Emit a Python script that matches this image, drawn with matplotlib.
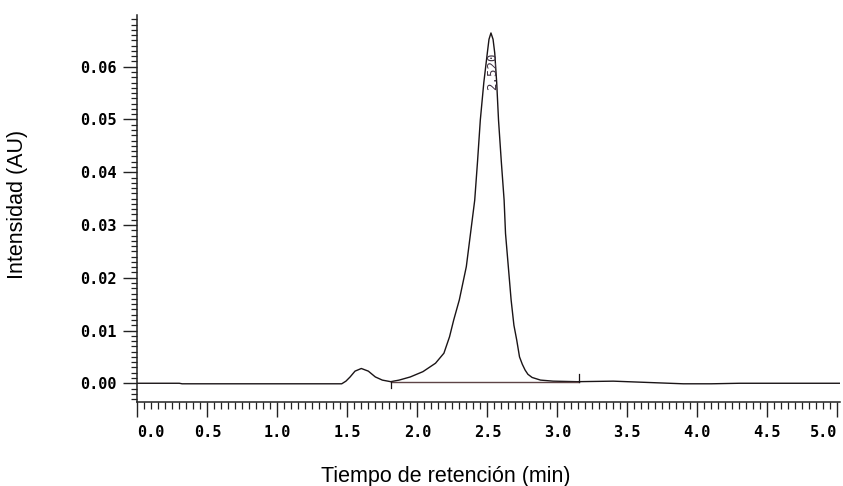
#!/usr/bin/env python3
"""Chromatogram: intensity vs retention time with one integrated peak."""
import matplotlib
matplotlib.use('Agg')
import matplotlib.pyplot as plt
from matplotlib.ticker import MultipleLocator

# signal (retention time in min, intensity in AU)
tiempo = [0.00, 0.30, 0.32, 1.00, 1.46, 1.49, 1.52, 1.555, 1.60, 1.65, 1.70,
          1.75, 1.81, 1.87, 1.95, 2.04, 2.13, 2.19, 2.23, 2.26, 2.30, 2.35,
          2.38, 2.41, 2.43, 2.45, 2.475, 2.50, 2.512, 2.526, 2.541, 2.553,
          2.567, 2.58, 2.60, 2.62, 2.63, 2.65, 2.67, 2.69, 2.71, 2.73, 2.75,
          2.77, 2.79, 2.82, 2.88, 2.97, 3.14, 3.40, 3.50, 3.70, 3.90, 4.10,
          4.30, 5.02]
intensidad = [0.0000, 0.0000, -0.0001, -0.0001, -0.0001, 0.0004, 0.0012,
              0.0023, 0.0028, 0.0023, 0.0012, 0.0006, 0.0003, 0.0006, 0.0012,
              0.0022, 0.0038, 0.0057, 0.0088, 0.0120, 0.0158, 0.0221, 0.0284,
              0.0347, 0.0420, 0.0499, 0.0570, 0.0626, 0.0652, 0.0664, 0.0652,
              0.0626, 0.0570, 0.0499, 0.0420, 0.0347, 0.0284, 0.0221, 0.0158,
              0.0110, 0.0082, 0.0050, 0.0036, 0.0025, 0.0017, 0.0011, 0.0006,
              0.0004, 0.0003, 0.0004, 0.0003, 0.0001, -0.0001, -0.0001,
              0.0000, 0.0000]

# integration limits of the main peak and its label
inicio_pico = 1.814
fin_pico = 3.157
nivel_base = 0.0003
tr_pico = 2.520
y_etiqueta = 0.0555

xticks = [0.0, 0.5, 1.0, 1.5, 2.0, 2.5, 3.0, 3.5, 4.0, 4.5, 5.0]
yticks = [0.00, 0.01, 0.02, 0.03, 0.04, 0.05, 0.06]

fig = plt.figure(figsize=(8.43, 4.86), dpi=100)
ax = fig.add_axes([0.1629, 0.1735, 0.8335, 0.7956])

ax.plot(tiempo, intensidad, color='#1a1416', lw=1.0)
# baseline and start/end markers
ax.plot([inicio_pico, fin_pico], [nivel_base, nivel_base], color='#5e4446', lw=1.0)
ax.plot([inicio_pico, inicio_pico], [nivel_base, -0.0009], color='#1a1416', lw=0.9)
ax.plot([fin_pico, fin_pico], [nivel_base, 0.0017], color='#1a1416', lw=0.9)
ax.text(tr_pico + 0.015, y_etiqueta, f'{tr_pico:.3f}', rotation=90, ha='center',
        va='bottom', family='DejaVu Sans Mono', fontsize=9, color='#3d3040')

ax.set_xlim(0, 5.019)
ax.set_ylim(-0.00349, 0.0698)

for s in ('top', 'right'):
    ax.spines[s].set_visible(False)
for s in ('left', 'bottom'):
    ax.spines[s].set_linewidth(1.1)
    ax.spines[s].set_color('#222222')

ax.set_xticks(xticks)
ax.set_xticklabels([f'{v:.1f}' for v in xticks])
ax.set_yticks(yticks)
ax.set_yticklabels([f'{v:.2f}' for v in yticks])
ax.xaxis.set_minor_locator(MultipleLocator(0.05))
ax.yaxis.set_minor_locator(MultipleLocator(0.001))

ax.tick_params(axis='x', which='major', direction='out', length=11, width=1.0,
               pad=6, color='#222222')
ax.tick_params(axis='x', which='minor', direction='out', length=5, width=0.9,
               color='#222222')
ax.tick_params(axis='y', which='major', direction='out', length=10, width=1.0,
               pad=5, color='#222222')
ax.tick_params(axis='y', which='minor', direction='out', length=4, width=0.9,
               color='#222222')

for lab in ax.get_xticklabels() + ax.get_yticklabels():
    lab.set_family('DejaVu Sans Mono')
    lab.set_fontweight('bold')
    lab.set_fontsize(11)
# first and last x labels sit inside the axis ends
xl = ax.get_xticklabels()
xl[0].set_ha('left')
xl[-1].set_ha('right')

ax.set_xlabel('Tiempo de retención (min)', family='Liberation Sans', fontsize=15.5)
ax.set_ylabel('Intensidad (AU)', family='Liberation Sans', fontsize=15.5)
ax.xaxis.set_label_coords(0.4386, -0.166)
ax.yaxis.set_label_coords(-0.1555, 0.511)

fig.savefig('out.png', dpi=100)
